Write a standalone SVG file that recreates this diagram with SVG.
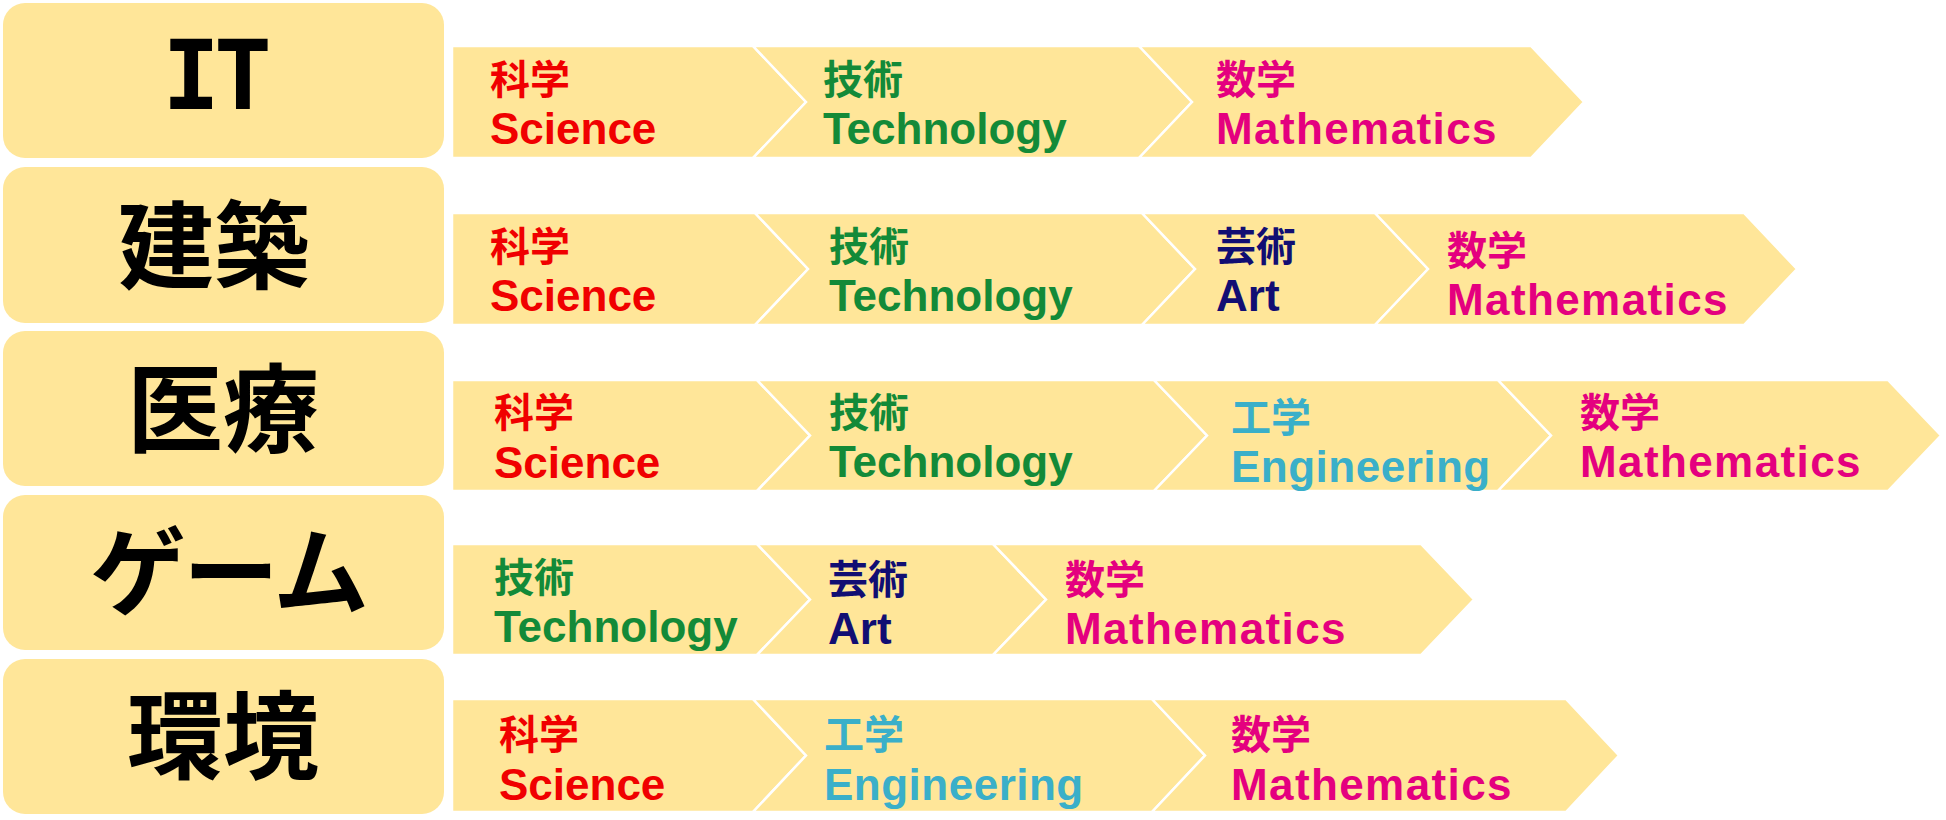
<svg xmlns="http://www.w3.org/2000/svg" width="1946" height="820" viewBox="0 0 1946 820">
<style>
.box{fill:#FFE699;}
.chev{fill:#FFE699;stroke:#FFFFFF;stroke-width:2.5;stroke-linejoin:miter;}
text{font-family:'Liberation Sans','Noto Sans CJK JP',sans-serif;font-weight:bold;}
.big{font-family:'Noto Sans CJK JP','Liberation Sans',sans-serif;font-size:96px;fill:#000;text-anchor:middle;}
.mono{font-family:'DejaVu Sans Mono','Liberation Mono',monospace;}
.jp{font-family:'Noto Sans CJK JP',sans-serif;font-size:40px;}
.en{font-size:44px;}
.sci{fill:#F00000;}
.tec{fill:#138A38;}
.mat{fill:#E4007F;}
.art{fill:#110E73;}
.eng{fill:#3AAFC9;}
</style>
<rect width="1946" height="820" fill="#FFFFFF"/>

<g id="node-it">
<rect class="box" x="3" y="3" width="441" height="155" rx="22"/>
<text class="big mono" x="214" y="109" font-size="94" letter-spacing="-6">IT</text>
</g>
<g id="node-kenchiku">
<rect class="box" x="3" y="167" width="441" height="156" rx="22"/>
<text class="big" x="214" y="281">建築</text>
</g>
<g id="node-iryo">
<rect class="box" x="3" y="331" width="441" height="155" rx="22"/>
<text class="big" x="223" y="444">医療</text>
</g>
<g id="node-game">
<rect class="box" x="3" y="495" width="441" height="155" rx="22"/>
<text class="big" x="228" y="607" letter-spacing="-3">ゲーム</text>
</g>
<g id="node-kankyo">
<rect class="box" x="3" y="659" width="441" height="155" rx="22"/>
<text class="big" x="223" y="771">環境</text>
</g>

<!-- Row 1: IT -->
<g id="row-it">
<g id="it-science">
<path class="chev" d="M452,46 H753 L806,102 L753,158 H452 Z"/>
<text class="jp sci" x="490" y="94">科学</text>
<text class="en sci" x="490" y="144">Science</text>
</g>
<g id="it-technology">
<path class="chev" d="M753,46 H1139 L1192,102 L1139,158 H753 L806,102 Z"/>
<text class="jp tec" x="823" y="94">技術</text>
<text class="en tec" x="823" y="144">Technology</text>
</g>
<g id="it-mathematics">
<path class="chev" d="M1139,46 H1531 L1584,102 L1531,158 H1139 L1192,102 Z"/>
<text class="jp mat" x="1216" y="94">数学</text>
<text class="en mat" x="1216" y="144" letter-spacing="1.4">Mathematics</text>
</g>
</g>

<!-- Row 2: 建築 -->
<g id="row-kenchiku">
<g id="ke-science">
<path class="chev" d="M452,213 H755 L808,269 L755,325 H452 Z"/>
<text class="jp sci" x="490" y="261">科学</text>
<text class="en sci" x="490" y="311">Science</text>
</g>
<g id="ke-technology">
<path class="chev" d="M755,213 H1142 L1195,269 L1142,325 H755 L808,269 Z"/>
<text class="jp tec" x="829" y="261">技術</text>
<text class="en tec" x="829" y="311">Technology</text>
</g>
<g id="ke-art">
<path class="chev" d="M1142,213 H1375 L1428,269 L1375,325 H1142 L1195,269 Z"/>
<text class="jp art" x="1216" y="261">芸術</text>
<text class="en art" x="1216" y="311">Art</text>
</g>
<g id="ke-mathematics">
<path class="chev" d="M1375,213 H1744 L1797,269 L1744,325 H1375 L1428,269 Z"/>
<text class="jp mat" x="1447" y="265">数学</text>
<text class="en mat" x="1447" y="315" letter-spacing="1.4">Mathematics</text>
</g>
</g>

<!-- Row 3: 医療 -->
<g id="row-iryo">
<g id="ir-science">
<path class="chev" d="M452,380 H757 L810,435.5 L757,491 H452 Z"/>
<text class="jp sci" x="494" y="427">科学</text>
<text class="en sci" x="494" y="478">Science</text>
</g>
<g id="ir-technology">
<path class="chev" d="M757,380 H1154 L1207,435.5 L1154,491 H757 L810,435.5 Z"/>
<text class="jp tec" x="829" y="427">技術</text>
<text class="en tec" x="829" y="477">Technology</text>
</g>
<g id="ir-engineering">
<path class="chev" d="M1154,380 H1498 L1551,435.5 L1498,491 H1154 L1207,435.5 Z"/>
<text class="jp eng" x="1231" y="432">工学</text>
<text class="en eng" x="1231" y="482" letter-spacing="0.5">Engineering</text>
</g>
<g id="ir-mathematics">
<path class="chev" d="M1498,380 H1888 L1941,435.5 L1888,491 H1498 L1551,435.5 Z"/>
<text class="jp mat" x="1580" y="427">数学</text>
<text class="en mat" x="1580" y="477" letter-spacing="1.4">Mathematics</text>
</g>
</g>

<!-- Row 4: ゲーム -->
<g id="row-game">
<g id="ga-technology">
<path class="chev" d="M452,544 H757 L810,599.5 L757,655 H452 Z"/>
<text class="jp tec" x="494" y="592">技術</text>
<text class="en tec" x="494" y="642">Technology</text>
</g>
<g id="ga-art">
<path class="chev" d="M757,544 H993 L1046,599.5 L993,655 H757 L810,599.5 Z"/>
<text class="jp art" x="828" y="594">芸術</text>
<text class="en art" x="828" y="644">Art</text>
</g>
<g id="ga-mathematics">
<path class="chev" d="M993,544 H1421 L1474,599.5 L1421,655 H993 L1046,599.5 Z"/>
<text class="jp mat" x="1065" y="594">数学</text>
<text class="en mat" x="1065" y="644" letter-spacing="1.4">Mathematics</text>
</g>
</g>

<!-- Row 5: 環境 -->
<g id="row-kankyo">
<g id="ka-science">
<path class="chev" d="M452,699 H753 L806,755.5 L753,812 H452 Z"/>
<text class="jp sci" x="499" y="749">科学</text>
<text class="en sci" x="499" y="800">Science</text>
</g>
<g id="ka-engineering">
<path class="chev" d="M753,699 H1152 L1205,755.5 L1152,812 H753 L806,755.5 Z"/>
<text class="jp eng" x="824" y="749">工学</text>
<text class="en eng" x="824" y="800" letter-spacing="0.5">Engineering</text>
</g>
<g id="ka-mathematics">
<path class="chev" d="M1152,699 H1566 L1619,755.5 L1566,812 H1152 L1205,755.5 Z"/>
<text class="jp mat" x="1231" y="749">数学</text>
<text class="en mat" x="1231" y="800" letter-spacing="1.4">Mathematics</text>
</g>
</g>
</svg>
